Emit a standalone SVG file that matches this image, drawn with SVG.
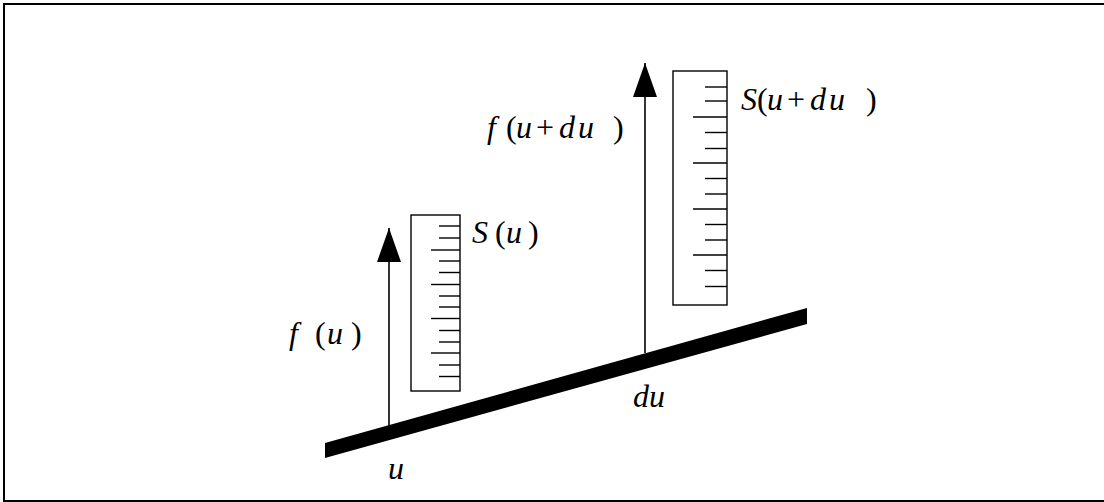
<svg xmlns="http://www.w3.org/2000/svg" width="1104" height="502" viewBox="0 0 1104 502">
<style>
.frame{fill:none;stroke:#000;stroke-width:2}
.ruler{fill:#fff;stroke:#000;stroke-width:1.4}
.tick{stroke:#000;stroke-width:1.4}
.shaft{stroke:#000;stroke-width:1.6;fill:none}
</style>
<defs>
<marker id="ah" markerUnits="userSpaceOnUse" markerWidth="35" markerHeight="24" refX="34" refY="12" orient="auto" viewBox="0 0 35 24">
<path d="M0,0 L34,12 L0,24 z" fill="#000"/>
</marker>
</defs>
<rect class="frame" x="4" y="4" width="1104" height="497"/>
<g id="beam">
<polygon points="325,443 807,308 807,324 325,458" fill="#000"/>
</g>
<g id="connectors">
<line class="shaft" x1="389" y1="427" x2="389" y2="228" marker-end="url(#ah)"/>
<line class="shaft" x1="645" y1="353" x2="645" y2="63" marker-end="url(#ah)"/>
</g>
<g id="ruler-left">
<rect class="ruler" x="411" y="215" width="49" height="176"/>
<g class="tick">
<line x1="439" y1="226" x2="460" y2="226"/>
<line x1="439" y1="238" x2="460" y2="238"/>
<line x1="431" y1="250" x2="460" y2="250"/>
<line x1="439" y1="261" x2="460" y2="261"/>
<line x1="439" y1="272.5" x2="460" y2="272.5"/>
<line x1="431" y1="284.5" x2="460" y2="284.5"/>
<line x1="439" y1="296" x2="460" y2="296"/>
<line x1="439" y1="307" x2="460" y2="307"/>
<line x1="431" y1="318.5" x2="460" y2="318.5"/>
<line x1="439" y1="330.5" x2="460" y2="330.5"/>
<line x1="439" y1="342" x2="460" y2="342"/>
<line x1="431" y1="353" x2="460" y2="353"/>
<line x1="439" y1="365" x2="460" y2="365"/>
<line x1="439" y1="376.5" x2="460" y2="376.5"/>
</g>
</g>
<g id="ruler-right">
<rect class="ruler" x="673" y="71" width="54" height="234"/>
<g class="tick">
<line x1="705" y1="87" x2="727" y2="87"/>
<line x1="705" y1="101" x2="727" y2="101"/>
<line x1="693" y1="117" x2="727" y2="117"/>
<line x1="705" y1="132.5" x2="727" y2="132.5"/>
<line x1="705" y1="148.5" x2="727" y2="148.5"/>
<line x1="693" y1="163" x2="727" y2="163"/>
<line x1="705" y1="178.5" x2="727" y2="178.5"/>
<line x1="705" y1="194" x2="727" y2="194"/>
<line x1="693" y1="209" x2="727" y2="209"/>
<line x1="705" y1="224.5" x2="727" y2="224.5"/>
<line x1="705" y1="240" x2="727" y2="240"/>
<line x1="693" y1="255" x2="727" y2="255"/>
<line x1="705" y1="270.5" x2="727" y2="270.5"/>
<line x1="705" y1="286.5" x2="727" y2="286.5"/>
</g>
</g>
<g id="labels" font-family="'Liberation Serif', 'Times New Roman', serif" font-size="32" fill="#000">
<text y="243"><tspan x="472" font-style="italic">S</tspan><tspan x="495">(</tspan><tspan x="506" font-style="italic">u</tspan><tspan x="528">)</tspan></text>
<text y="110"><tspan x="741" font-style="italic">S</tspan><tspan x="757">(</tspan><tspan x="767" font-style="italic">u</tspan><tspan x="787">+</tspan><tspan x="810" font-style="italic">d</tspan><tspan x="829" font-style="italic">u</tspan><tspan x="866">)</tspan></text>
<text y="344"><tspan x="289" font-style="italic">f</tspan><tspan x="315">(</tspan><tspan x="327" font-style="italic">u</tspan><tspan x="351">)</tspan></text>
<text y="138"><tspan x="487" font-style="italic">f</tspan><tspan x="506">(</tspan><tspan x="516" font-style="italic">u</tspan><tspan x="536">+</tspan><tspan x="559" font-style="italic">d</tspan><tspan x="578" font-style="italic">u</tspan><tspan x="613">)</tspan></text>
<text x="633" y="407" font-style="italic">du</text>
<text x="388" y="479" font-style="italic">u</text>
</g>
</svg>
